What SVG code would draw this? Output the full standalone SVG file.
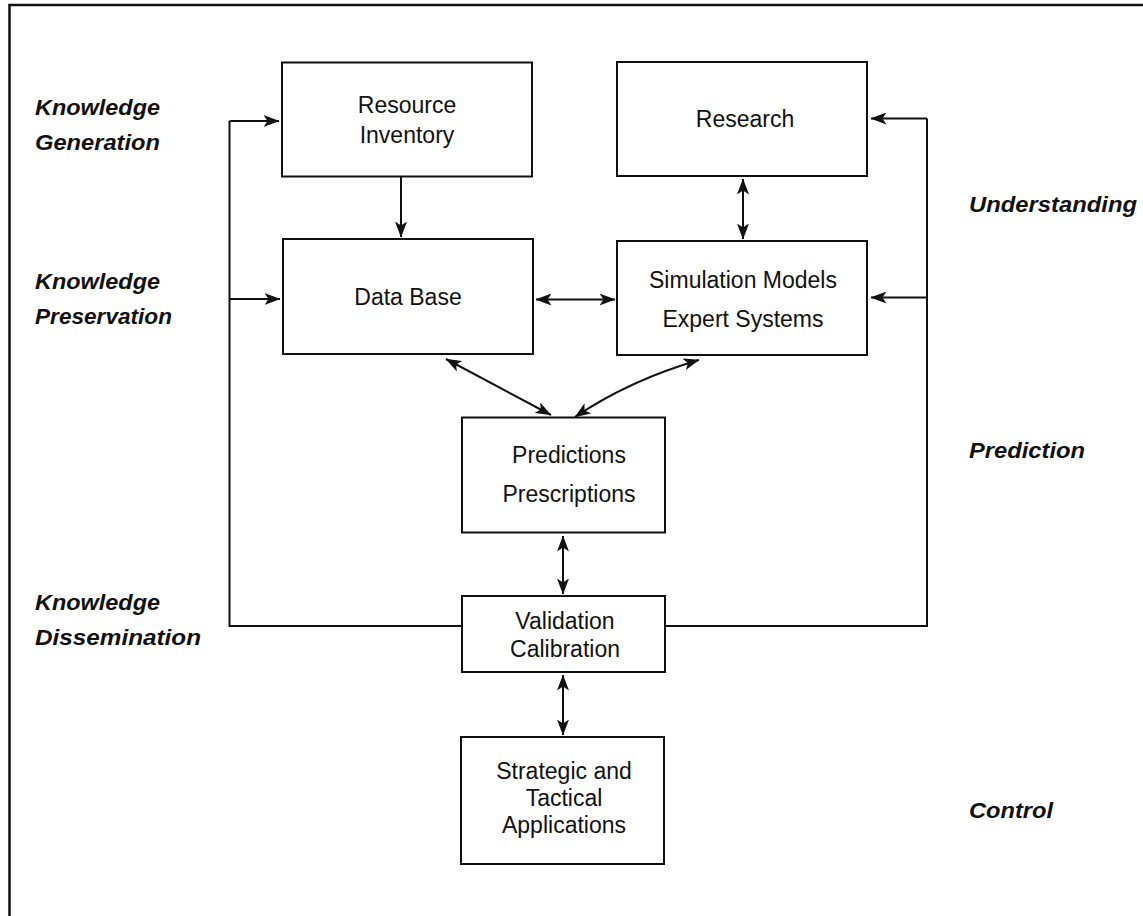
<svg xmlns="http://www.w3.org/2000/svg" width="1143" height="916" viewBox="0 0 1143 916">
<style>
.box{fill:#fff;stroke:#111;stroke-width:2}
.t{font-family:"Liberation Sans",Arial,sans-serif;font-size:23px;fill:#111;text-anchor:middle}
.lab{font-family:"Liberation Sans",Arial,sans-serif;font-size:22px;font-weight:bold;font-style:italic;fill:#111}
.c{fill:none;stroke:#111;stroke-width:2}
.frame{fill:none;stroke:#111;stroke-width:2.5}
</style>
<defs>
<marker id="ah" viewBox="0 0 16 12" refX="15.5" refY="6" markerWidth="16" markerHeight="12" markerUnits="userSpaceOnUse" orient="auto-start-reverse">
<path d="M0,0 L16,6 L0,12 L4,6 z" fill="#111"/>
</marker>
</defs>
<path class="frame" d="M9.5,916 V5 H1143"/>
<g id="labels">
<text class="lab" x="35" y="115" textLength="125" lengthAdjust="spacingAndGlyphs">Knowledge</text>
<text class="lab" x="35" y="150" textLength="125" lengthAdjust="spacingAndGlyphs">Generation</text>
<text class="lab" x="35" y="289" textLength="125" lengthAdjust="spacingAndGlyphs">Knowledge</text>
<text class="lab" x="35" y="324" textLength="137" lengthAdjust="spacingAndGlyphs">Preservation</text>
<text class="lab" x="35" y="610" textLength="125" lengthAdjust="spacingAndGlyphs">Knowledge</text>
<text class="lab" x="35" y="645" textLength="166" lengthAdjust="spacingAndGlyphs">Dissemination</text>
<text class="lab" x="969" y="212" textLength="168" lengthAdjust="spacingAndGlyphs">Understanding</text>
<text class="lab" x="969" y="458" textLength="116" lengthAdjust="spacingAndGlyphs">Prediction</text>
<text class="lab" x="969" y="818" textLength="84" lengthAdjust="spacingAndGlyphs">Control</text>
</g>
<g id="resource-inventory">
<rect class="box" x="282" y="62.5" width="250" height="114"/>
<text class="t" x="407" y="113">Resource</text>
<text class="t" x="407" y="143">Inventory</text>
</g>
<g id="research">
<rect class="box" x="617" y="62" width="250" height="114"/>
<text class="t" x="745" y="127">Research</text>
</g>
<g id="data-base">
<rect class="box" x="283" y="239" width="250" height="115"/>
<text class="t" x="408" y="305">Data Base</text>
</g>
<g id="simulation">
<rect class="box" x="617" y="241" width="250" height="114"/>
<text class="t" x="743" y="288">Simulation Models</text>
<text class="t" x="743" y="327">Expert Systems</text>
</g>
<g id="predictions">
<rect class="box" x="462" y="417.5" width="203" height="115"/>
<text class="t" x="569" y="463">Predictions</text>
<text class="t" x="569" y="502">Prescriptions</text>
</g>
<g id="validation">
<rect class="box" x="462" y="596" width="203" height="76"/>
<text class="t" x="565" y="629">Validation</text>
<text class="t" x="565" y="657">Calibration</text>
</g>
<g id="applications">
<rect class="box" x="461" y="737" width="203" height="127"/>
<text class="t" x="564" y="779">Strategic and</text>
<text class="t" x="564" y="806">Tactical</text>
<text class="t" x="564" y="833">Applications</text>
</g>
<g id="connectors">
<path class="c" d="M462,626 H229.5 V121"/>
<path class="c" d="M229.5,121 H279" marker-end="url(#ah)"/>
<path class="c" d="M229.5,299 H280" marker-end="url(#ah)"/>
<path class="c" d="M665,626 H927 V118.5"/>
<path class="c" d="M927,118.5 H871" marker-end="url(#ah)"/>
<path class="c" d="M927,297.5 H871" marker-end="url(#ah)"/>
<path class="c" d="M401,177 V237" marker-end="url(#ah)"/>
<path class="c" d="M743,179 V239" marker-start="url(#ah)" marker-end="url(#ah)"/>
<path class="c" d="M536,299.5 H615" marker-start="url(#ah)" marker-end="url(#ah)"/>
<path class="c" d="M446,359 L551,415" marker-start="url(#ah)" marker-end="url(#ah)"/>
<path class="c" d="M699,360 Q630,380 575,417" marker-start="url(#ah)" marker-end="url(#ah)"/>
<path class="c" d="M563,536 V594" marker-start="url(#ah)" marker-end="url(#ah)"/>
<path class="c" d="M563,675 V735" marker-start="url(#ah)" marker-end="url(#ah)"/>
</g>
</svg>
